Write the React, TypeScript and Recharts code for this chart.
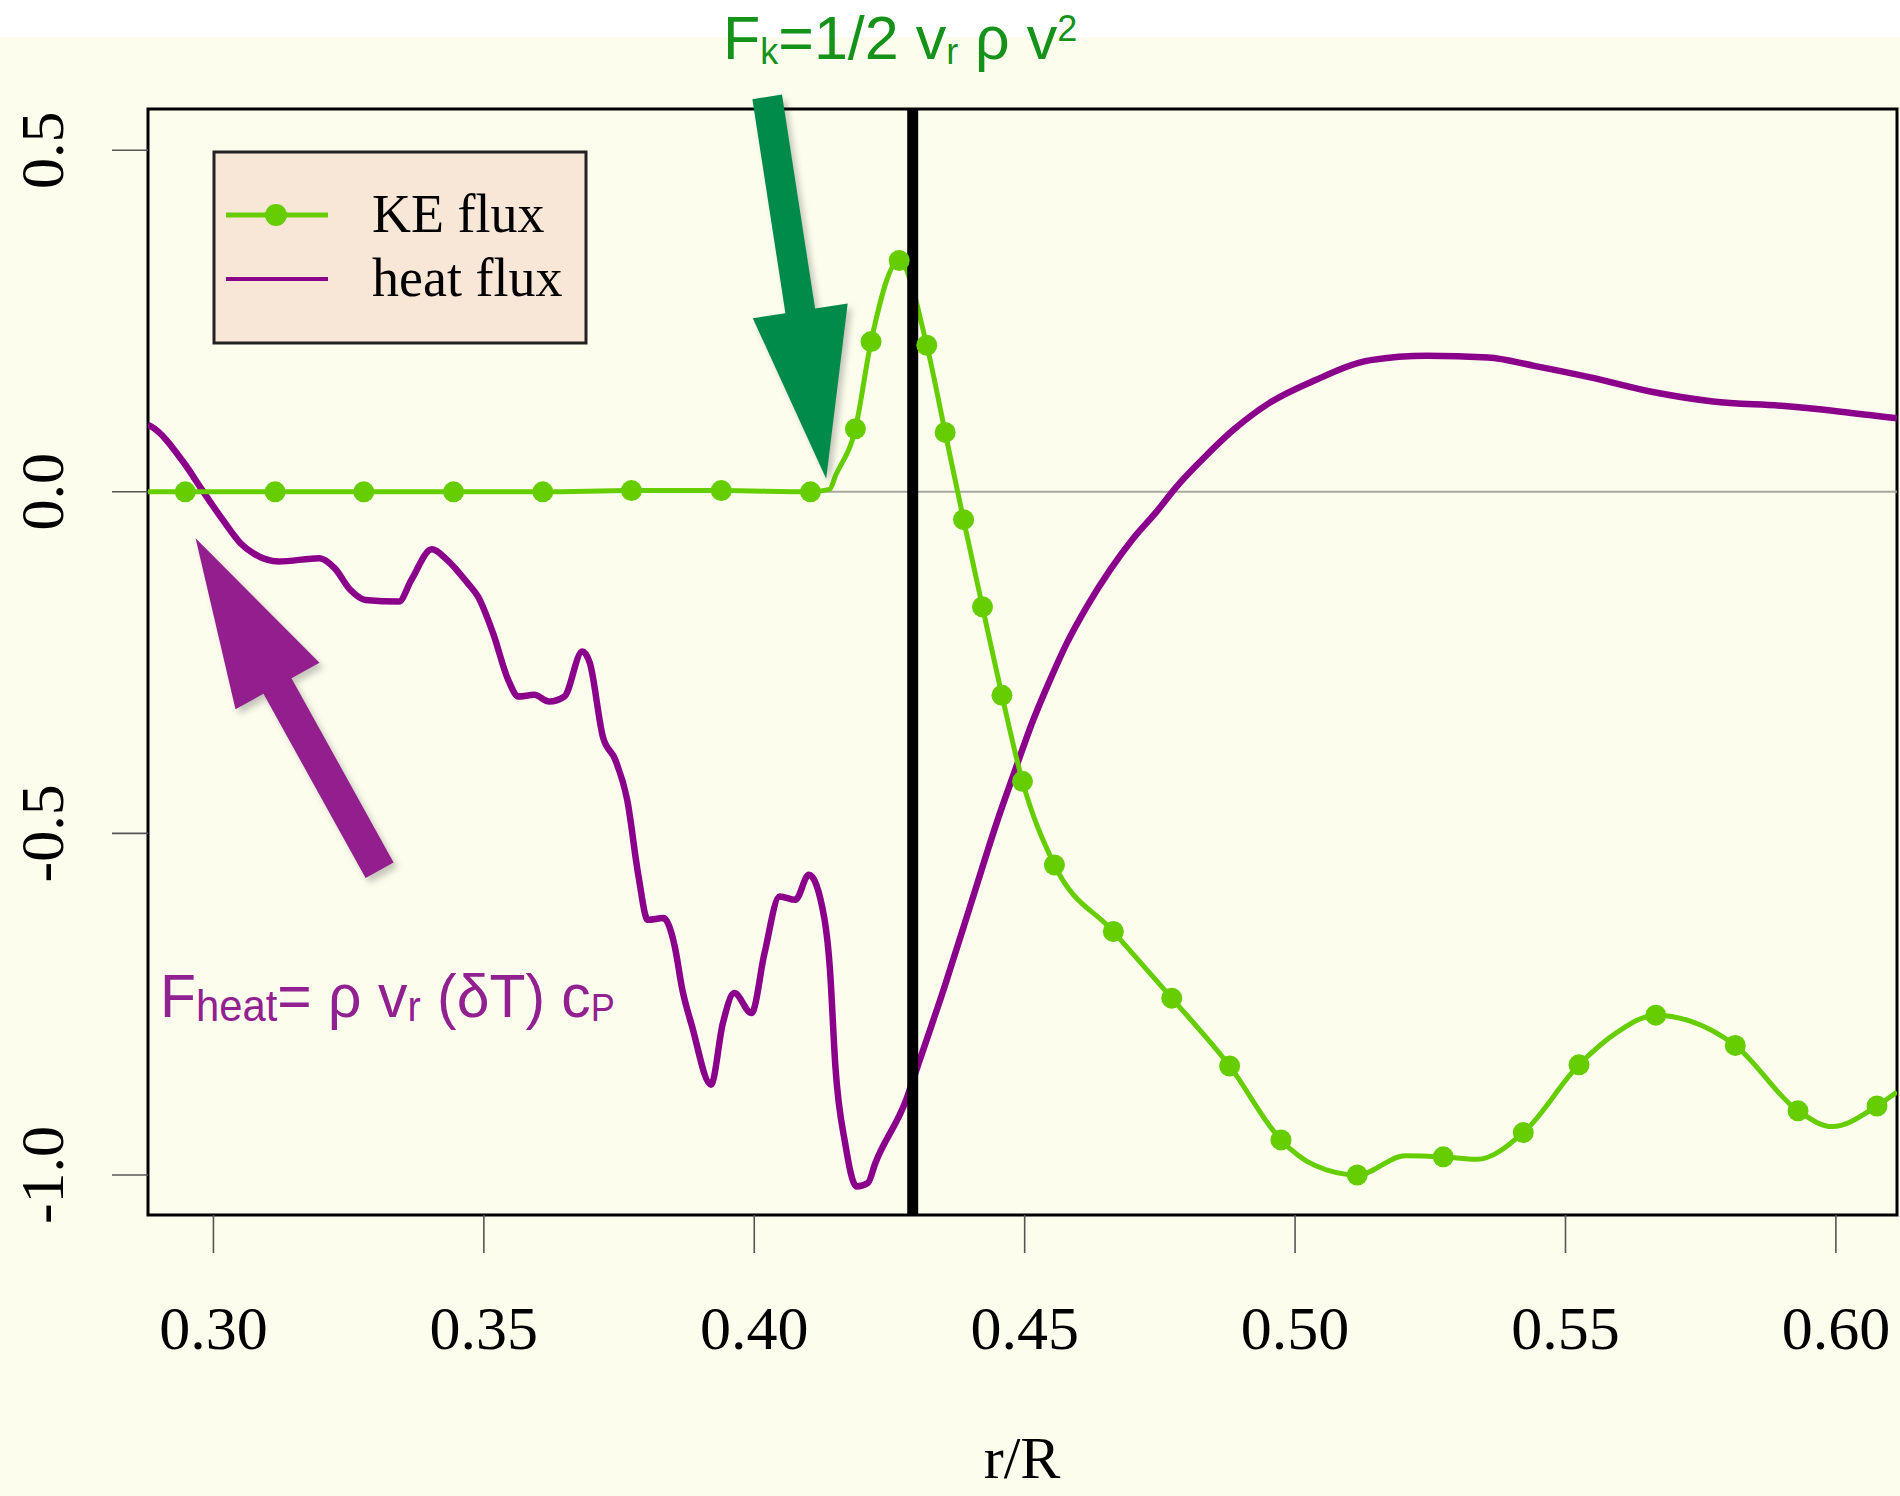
import React from 'react';
import { ComposedChart, Line, XAxis, YAxis, ReferenceLine, ReferenceArea, ReferenceDot } from 'recharts';

// ---------- data ----------
const X_DOMAIN: [number, number] = [0.2879, 0.6113];
const Y_DOMAIN: [number, number] = [-1.0585, 0.5603];
const X_TICKS = [0.3, 0.35, 0.4, 0.45, 0.5, 0.55, 0.6];
const X_TICK_LABELS = ['0.30', '0.35', '0.40', '0.45', '0.50', '0.55', '0.60'];
const Y_TICKS = [-1.0, -0.5, 0.0, 0.5];
const Y_TICK_LABELS = ['-1.0', '-0.5', '0.0', '0.5'];
const BOUNDARY_R = 0.4293;
const X_LABEL = 'r/R';
const SERIES_NAMES = ['KE flux', 'heat flux'];

const heatR = [
  0.2879, 0.2885, 0.2946, 0.2979, 0.3017, 0.3050, 0.3073, 0.3121, 0.3196, 0.3224,
  0.3253, 0.3281, 0.3343, 0.3366, 0.3404, 0.3432, 0.3470, 0.3489, 0.3517, 0.3545,
  0.3564, 0.3593, 0.3621, 0.3649, 0.3682, 0.3696, 0.3720, 0.3743, 0.3765, 0.3786,
  0.3803, 0.3832, 0.3853, 0.3867, 0.3885, 0.3920, 0.3942, 0.3963, 0.3995, 0.4019,
  0.4047, 0.4076, 0.4101, 0.4129, 0.4140, 0.4150, 0.4168, 0.4189, 0.4210, 0.4224,
  0.4281, 0.4302, 0.4352, 0.4401, 0.4451, 0.4479, 0.4516, 0.4547, 0.4578, 0.4615,
  0.4658, 0.4701, 0.4744, 0.4781, 0.4828, 0.4885, 0.4952, 0.5037, 0.5140, 0.5244,
  0.5357, 0.5442, 0.5546, 0.5659, 0.5773, 0.5905, 0.6009, 0.6113
];
const heatFlux = [
  0.098, 0.0956, 0.0418, 0.0028, -0.0408, -0.0752, -0.0897, -0.1020, -0.0972, -0.1117,
  -0.1434, -0.1582, -0.1606, -0.1289, -0.0840, -0.0996, -0.1337, -0.1532, -0.2069, -0.2752,
  -0.2996, -0.2972, -0.3069, -0.2996, -0.2337, -0.2507, -0.3582, -0.3922, -0.4507, -0.5629,
  -0.6264, -0.6239, -0.6654, -0.7287, -0.7824, -0.8677, -0.7775, -0.7337, -0.7629, -0.6752,
  -0.5922, -0.5972, -0.5605, -0.6215, -0.6995, -0.8410, -0.9532, -1.0167, -1.0117, -0.9823,
  -0.8897, -0.8410, -0.7239, -0.6020, -0.4780, -0.4150, -0.3337, -0.2752, -0.2215, -0.1679,
  -0.1142, -0.0679, -0.0289, 0.0076, 0.0470, 0.0900, 0.1298, 0.1633, 0.1927, 0.1992,
  0.1967, 0.1844, 0.1675, 0.1464, 0.1322, 0.1255, 0.1173, 0.1075
];

const keR = [
  0.2879, 0.2948, 0.3114, 0.3278, 0.3444, 0.3609, 0.3773, 0.3939, 0.4104, 0.4139,
  0.4151, 0.4187, 0.4216, 0.4268, 0.4319, 0.4353, 0.4387, 0.4422, 0.4458, 0.4496,
  0.4555, 0.4664, 0.4772, 0.4879, 0.4974, 0.5036, 0.5115, 0.5204, 0.5274, 0.5336,
  0.5422, 0.5525, 0.5596, 0.5667, 0.5731, 0.5814, 0.5930, 0.5993, 0.6076, 0.6113
];
const keFlux = [
  0.0, 0.0, 0.0, 0.0, 0.0, 0.0, 0.0018, 0.0018, 0.0, 0.0035,
  0.0248, 0.0922, 0.2199, 0.3387, 0.2145, 0.0869, -0.0408, -0.1684, -0.2979, -0.4238,
  -0.5461, -0.6436, -0.7411, -0.8404, -0.9486, -0.9858, -1.0000, -0.9716, -0.9734, -0.9770,
  -0.9379, -0.8387, -0.7908, -0.7660, -0.7748, -0.8103, -0.9060, -0.9291, -0.8989, -0.8784
];
const keMarker = [
  0, 1, 1, 1, 1, 1, 1, 1, 1, 0,
  0, 1, 1, 1, 1, 1, 1, 1, 1, 1,
  1, 1, 1, 1, 1, 0, 1, 0, 1, 0,
  1, 1, 0, 1, 0, 1, 1, 0, 1, 0
];

// annotation anchors (data coordinates of arrow tips)
const KE_ARROW_TIP = { r: 0.4133, v: 0.019 };
const HEAT_ARROW_TIP = { r: 0.2967, v: -0.0679 };

const heatData = heatR.map((r, i) => ({ r, v: heatFlux[i] }));
const keData = keR.map((r, i) => ({ r, v: keFlux[i], m: keMarker[i] }));

// ---------- styles ----------
const GREEN = '#66CD00';
const PURPLE = '#8B008B';
const BG = '#FDFDEE';
const SERIF = '"Liberation Serif", "Times New Roman", serif';
const SANS = '"Liberation Sans", Arial, Helvetica, sans-serif';

function arrowPath(dx: number, dy: number, w: number, hw: number, hl: number) {
  // tip at (0,0), tail at (dx,dy)
  const L = Math.hypot(dx, dy);
  const ux = -dx / L, uy = -dy / L; // direction tail->tip
  const nx = -uy, ny = ux;
  const tx = dx, ty = dy;
  const bx = -ux * hl, by = -uy * hl;
  const pts = [
    [tx + nx * w / 2, ty + ny * w / 2],
    [bx + nx * w / 2, by + ny * w / 2],
    [bx + nx * hw / 2, by + ny * hw / 2],
    [0, 0],
    [bx - nx * hw / 2, by - ny * hw / 2],
    [bx - nx * w / 2, by - ny * w / 2],
    [tx - nx * w / 2, ty - ny * w / 2],
  ];
  return 'M' + pts.map((p) => p[0].toFixed(1) + ',' + p[1].toFixed(1)).join('L') + 'Z';
}

const makeArrow = (color: string, dx: number, dy: number, w: number, hw: number, hl: number) =>
  (props: any) => (
    <g transform={`translate(${props.cx},${props.cy})`}>
      <path d={arrowPath(dx, dy, w, hw, hl)} fill="rgba(0,0,0,0.22)" transform="translate(4,5)" style={{ filter: 'blur(3px)' }} />
      <path d={arrowPath(dx, dy, w, hw, hl)} fill={color} />
    </g>
  );

const XTick = (props: any) => {
  const { x, y, payload } = props;
  const i = X_TICKS.findIndex((t) => Math.abs(t - payload.value) < 1e-6);
  return (
    <text x={x} y={y + 94} textAnchor="middle" fontFamily={SERIF} fontSize={62} fill="#000">
      {X_TICK_LABELS[i]}
    </text>
  );
};

const YTick = (props: any) => {
  const { x, y, payload } = props;
  const i = Y_TICKS.findIndex((t) => Math.abs(t - payload.value) < 1e-6);
  return (
    <text transform={`translate(${x - 47},${y}) rotate(-90)`} textAnchor="middle" fontFamily={SERIF} fontSize={62} fill="#000">
      {Y_TICK_LABELS[i]}
    </text>
  );
};

const keDot = (props: any) => {
  const { cx, cy, payload, index } = props;
  if (!payload || !payload.m) return <g key={`d${index}`} />;
  return <circle key={`d${index}`} cx={cx} cy={cy} r={10.5} fill={GREEN} />;
};

export default function App() {
  return (
    <div
      style={{
        position: 'absolute',
        left: 0,
        top: 0,
        width: 1900,
        height: 1496,
        overflow: 'hidden',
        background: `linear-gradient(#ffffff 0px, #ffffff 37px, ${BG} 37px, ${BG} 100%)`,
      }}
    >
      <ComposedChart width={1900} height={1496} margin={{ top: 109, right: 3, bottom: 0, left: 0 }}>
        <XAxis
          type="number"
          dataKey="r"
          domain={X_DOMAIN}
          ticks={X_TICKS}
          allowDataOverflow
          height={281}
          tickSize={38}
          tickMargin={2}
          tickLine={{ stroke: '#555', strokeWidth: 1.6 }}
          axisLine={false}
          tick={<XTick />}
          interval={0}
        />
        <YAxis
          type="number"
          dataKey="v"
          domain={Y_DOMAIN}
          ticks={Y_TICKS}
          allowDataOverflow
          width={148}
          tickSize={36}
          tickMargin={2}
          tickLine={{ stroke: '#555', strokeWidth: 1.6 }}
          axisLine={false}
          tick={<YTick />}
          interval={0}
        />
        <ReferenceLine y={0} stroke="#a8a8a0" strokeWidth={2} />
        <Line
          data={heatData}
          dataKey="v"
          name={SERIES_NAMES[1]}
          type="monotone"
          stroke={PURPLE}
          strokeWidth={6.5}
          dot={false}
          isAnimationActive={false}
          strokeLinejoin="round"
        />
        <Line
          data={keData}
          dataKey="v"
          name={SERIES_NAMES[0]}
          type="monotone"
          stroke={GREEN}
          strokeWidth={5}
          dot={keDot}
          activeDot={false}
          isAnimationActive={false}
        />
        <ReferenceLine x={BOUNDARY_R} stroke="#000" strokeWidth={11} />
        <ReferenceArea
          x1={X_DOMAIN[0]}
          x2={X_DOMAIN[1]}
          y1={Y_DOMAIN[0]}
          y2={Y_DOMAIN[1]}
          fill="none"
          fillOpacity={0}
          stroke="#000"
          strokeWidth={3}
          ifOverflow="visible"
        />
        <ReferenceDot
          x={KE_ARROW_TIP.r}
          y={KE_ARROW_TIP.v}
          ifOverflow="visible"
          shape={makeArrow('#008B4B', -59, -382, 30, 96, 170)}
        />
        <ReferenceDot
          x={HEAT_ARROW_TIP.r}
          y={HEAT_ARROW_TIP.v}
          ifOverflow="visible"
          shape={makeArrow('#931F8F', 184, 332, 32, 96, 169)}
        />
      </ComposedChart>

      <svg
        width={1900}
        height={1496}
        style={{ position: 'absolute', left: 0, top: 0, pointerEvents: 'none' }}
      >
        {/* legend */}
        <rect x={214} y={152} width={372} height={191} fill="#F8E7D7" stroke="#222" strokeWidth={3} />
        <line x1={226} y1={215} x2={328} y2={215} stroke={GREEN} strokeWidth={5} />
        <circle cx={276} cy={215} r={11} fill={GREEN} />
        <text x={372} y={232} fontFamily={SERIF} fontSize={54} fill="#000">{SERIES_NAMES[0]}</text>
        <line x1={226} y1={279} x2={328} y2={279} stroke={PURPLE} strokeWidth={4} />
        <text x={372} y={296} fontFamily={SERIF} fontSize={54} fill="#000">{SERIES_NAMES[1]}</text>

        {/* KE flux formula */}
        <text x={723} y={59} fontFamily={SANS} fontSize={61} fill="#14921A">
          <tspan>F</tspan>
          <tspan fontSize={36} dy={5}>k</tspan>
          <tspan dy={-5}>=1/2 v</tspan>
          <tspan fontSize={36} dy={5}>r</tspan>
          <tspan dy={-5}> ρ v</tspan>
          <tspan fontSize={36} dy={-18}>2</tspan>
        </text>

        {/* heat flux formula */}
        <g transform="translate(160,1017) scale(0.95,1)">
          <text x={0} y={0} fontFamily={SANS} fontSize={62} fill="#912090">
            <tspan>F</tspan>
            <tspan fontSize={44} dy={4}>heat</tspan>
            <tspan dy={-4}>= ρ v</tspan>
            <tspan fontSize={42} dy={4}>r</tspan>
            <tspan dy={-4}> (δT) c</tspan>
            <tspan fontSize={38} dy={4}>P</tspan>
          </text>
        </g>

        {/* x axis title */}
        <text x={1022} y={1478} textAnchor="middle" fontFamily={SERIF} fontSize={60} fill="#000">{X_LABEL}</text>
      </svg>
    </div>
  );
}
